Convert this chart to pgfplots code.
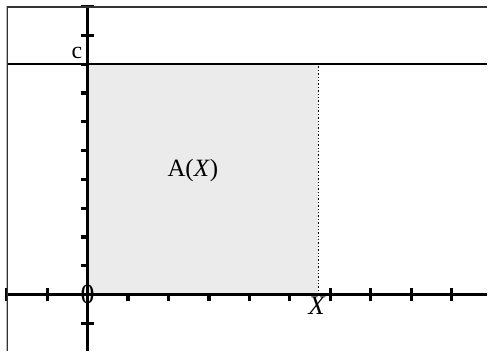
\documentclass[border=0pt]{standalone}
\usepackage{fontspec}
\setmainfont{Liberation Serif}
\usepackage{pgfplots}
\pgfplotsset{compat=1.18}

\begin{document}
\begin{tikzpicture}
\begin{axis}[
  scale only axis,
  width=241.5pt, height=173pt,
  xmin=-2, xmax=9.88, ymin=-1.96, ymax=10,
  axis lines=middle,
  axis line style={-, line width=1.65pt},
  xtick={-2,...,9}, ytick={-1,...,10},
  xticklabels={}, yticklabels={},
  tick align=center, major tick length=6.8pt,
  every tick/.style={black, line width=1.6pt},
]
% shaded area A(X)
\addplot[fill=black!8, draw=none] coordinates {(0.04,0.06) (5.70,0.06) (5.70,8) (0.04,8) (0.04,0.06)};
% level c
\addplot[black, line width=1.2pt] coordinates {(-2,8) (9.88,8)};
% X
\addplot[black, densely dotted, line width=0.7pt] coordinates {(5.70,0) (5.70,8)};

\draw[gray!40!black, line width=1pt] (rel axis cs:0,0) -- (rel axis cs:0,1) -- (rel axis cs:1,1);
\coordinate (tl) at (rel axis cs:0,1);

\node[inner sep=0, font=\fontsize{14}{16}\selectfont] at (axis cs:0,0) {0};
\node[anchor=north, inner sep=0, font=\fontsize{13.5}{15}\selectfont] at (axis cs:5.67,-0.05) {\textit{X}};
\node[anchor=base east, inner sep=0, font=\fontsize{12}{14}\selectfont, xshift=-2.5pt, yshift=3pt] at (axis cs:0,8) {c};
\node[font=\fontsize{12.5}{14}\selectfont] at (axis cs:2.6,4.3) {A(\textit{X})};
\end{axis}
\path (tl) ++(-3pt,2.5pt);
\end{tikzpicture}
\end{document}
